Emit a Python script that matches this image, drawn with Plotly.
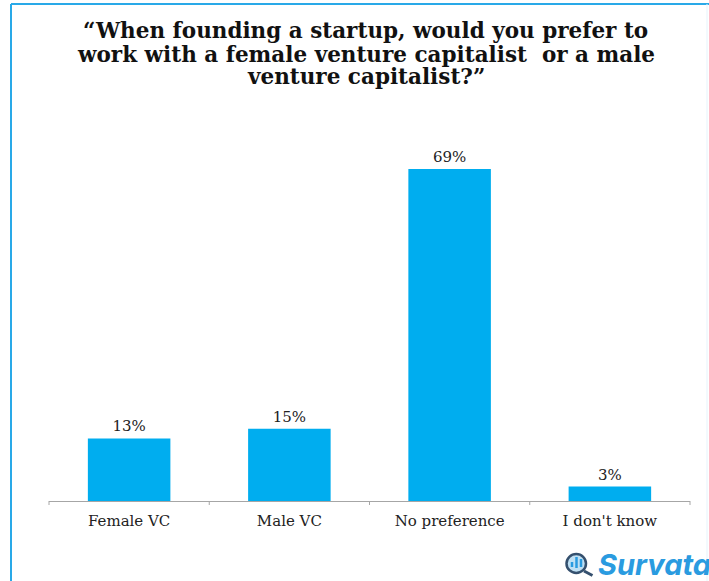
import plotly.graph_objects as go

categories = ["Female VC", "Male VC", "No preference", "I don't know"]
shares = [13, 15, 69, 3]
share_labels = ["13%", "15%", "69%", "3%"]
question_lines = [
    "“When founding a startup, would you prefer to",
    "work with a female venture capitalist  or a male",
    "venture capitalist?”",
]

W, H = 709, 581
LEFT, RIGHT, TOP, BOTTOM = 49, 690, 100, 501
BLUE = "#00adef"
TEXT = "#222222"
SERIF = "DejaVu Serif"


def px(x):
    return (x - LEFT) / (RIGHT - LEFT)


def py(y):
    return (BOTTOM - y) / (BOTTOM - TOP)


def paper_shape(kind, x0, y0, x1, y1, **kw):
    return dict(type=kind, xref="paper", yref="paper",
                x0=px(x0), y0=py(y0), x1=px(x1), y1=py(y1), **kw)


fig = go.Figure(go.Bar(
    x=categories, y=shares, width=0.515,
    marker=dict(color=BLUE, line_width=0),
    text=share_labels, textposition="outside", cliponaxis=False,
    textfont=dict(family=SERIF, size=15, color=TEXT),
))

shapes = [
    # page frame
    paper_shape("line", 11, 4, 709, 4, line=dict(color="#29a9e8", width=2)),
    paper_shape("line", 11, 4, 11, 581, line=dict(color="#29a9e8", width=2)),
    paper_shape("line", 707, 4, 707, 581, line=dict(color="#e6f3fb", width=1)),
    # magnifier emblem of the logo
    paper_shape("circle", 566.5, 554, 586, 573,
                fillcolor="#bfe0f4", line=dict(color="#35506e", width=2.5)),
    paper_shape("line", 584, 571, 592.5, 575.5, line=dict(color="#35506e", width=3)),
    paper_shape("line", 572, 567, 572, 562, line=dict(color="#2a9be0", width=2.5)),
    paper_shape("line", 576.5, 568, 576.5, 557, line=dict(color="#2a9be0", width=2.5)),
    paper_shape("line", 581, 567, 581, 559, line=dict(color="#2a9be0", width=2.5)),
]
# tick marks between categories on the baseline
for boundary in (49, 209.25, 369.5, 529.75, 690):
    shapes.append(paper_shape("line", boundary, 501, boundary, 505,
                              line=dict(color="#a6a6a6", width=1)))

annotations = [dict(
    text="<b><i>Survata</i></b>", xref="paper", yref="paper",
    x=px(596), y=py(564), xanchor="left", yanchor="middle", showarrow=False,
    font=dict(family="Inter", size=29, color="#2a9be0"),
)]
# question heading, one annotation per line for a tight leading
for i, line in enumerate(question_lines):
    annotations.append(dict(
        text=f"<b>{line}</b>", xref="paper", yref="paper",
        x=px(365.5), y=py(31 + 23 * i), xanchor="center", yanchor="middle",
        showarrow=False,
        font=dict(family=SERIF, size=21.5, color="#111111"),
    ))

fig.update_layout(
    width=W, height=H,
    margin=dict(l=LEFT, r=W - RIGHT, t=TOP, b=H - BOTTOM, pad=0),
    paper_bgcolor="white", plot_bgcolor="white",
    showlegend=False, bargap=0.485,
    xaxis=dict(type="category", range=[-0.5, 3.5], showgrid=False, ticks="",
               showline=True, linecolor="#a6a6a6", linewidth=1, ticklen=0,
               ticklabelstandoff=6,
               tickfont=dict(family=SERIF, size=15, color=TEXT)),
    yaxis=dict(range=[0, (BOTTOM - TOP) / 4.81], visible=False),
    shapes=shapes,
    annotations=annotations,
)

fig.write_html("out.html")
